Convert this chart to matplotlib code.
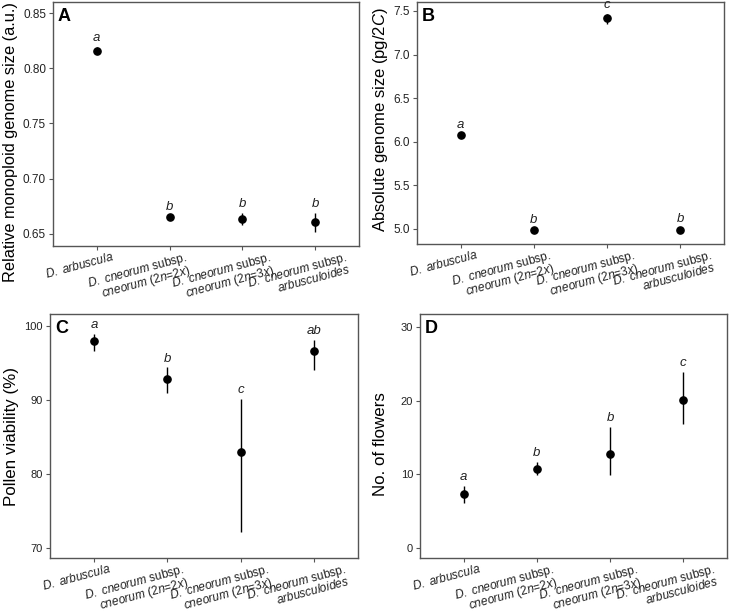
import matplotlib
matplotlib.use('Agg')
import matplotlib.pyplot as plt
import matplotlib.transforms as mtransforms
import numpy as np

plt.rcParams['font.family'] = ['Liberation Sans', 'DejaVu Sans']
plt.rcParams['mathtext.fontset'] = 'custom'
plt.rcParams['mathtext.rm'] = 'Liberation Sans'
plt.rcParams['mathtext.it'] = 'Liberation Sans:italic'

# taxa (x axis)
taxa = [
    r'$\mathit{D.\ arbuscula}$',
    r'$\mathit{D.\ cneorum}$ subsp.' + '\n' + r'$\mathit{cneorum}$ (2$\mathit{n}$=2$\mathit{x}$)',
    r'$\mathit{D.\ cneorum}$ subsp.' + '\n' + r'$\mathit{cneorum}$ (2$\mathit{n}$=3$\mathit{x}$)',
    r'$\mathit{D.\ cneorum}$ subsp.' + '\n' + r'$\mathit{arbusculoides}$',
]

# A: relative monoploid genome size
mono_mean = [0.8157, 0.6650, 0.6635, 0.6605]
mono_lo = [0.8125, 0.6635, 0.6580, 0.6520]
mono_hi = [0.8190, 0.6665, 0.6690, 0.6690]
mono_letters = ['a', 'b', 'b', 'b']

# B: absolute genome size
abs_mean = [6.076, 4.985, 7.416, 4.980]
abs_lo = [6.055, 4.975, 7.350, 4.950]
abs_hi = [6.095, 4.995, 7.465, 5.010]
abs_letters = ['a', 'b', 'c', 'b']

# C: pollen viability
pol_mean = [98.0, 92.8, 83.0, 96.6]
pol_lo = [96.6, 91.0, 72.2, 94.1]
pol_hi = [98.9, 94.4, 90.2, 98.1]
pol_letters = ['a', 'b', 'c', 'ab']

# D: number of flowers
flw_mean = [7.3, 10.8, 12.8, 20.1]
flw_lo = [6.1, 9.9, 9.9, 16.8]
flw_hi = [8.5, 11.7, 16.4, 23.9]
flw_letters = ['a', 'b', 'b', 'c']

W, H = 729, 614
fig = plt.figure(figsize=(W / 100, H / 100), dpi=100)
# how far (px) the right end of each rotated taxon label sits right of its tick
label_nudge = [15, 15, 26, 30]


def px_axes(l, t, r, b):
    return fig.add_axes([l / W, (H - b) / H, (r - l) / W, (b - t) / H])


def panel(ax, mean, lo, hi, letters, ylim, ticks, fmt, ylabel, tag, lab_xy,
          tick_fs=8.5, lab_fs=12):
    x = np.arange(1, len(mean) + 1)
    ax.vlines(x, lo, hi, color='black', lw=1.0)
    ax.plot(x, mean, 'o', color='black', ms=5.2)
    for xi, h, s in zip(x, hi, letters):
        ax.annotate(s, (xi, h), xytext=(0, 2), textcoords='offset points',
                    ha='center', va='bottom', style='italic', fontsize=9.5,
                    color='#222222')
    ax.set_xlim(0.4, 4.6)
    ax.set_ylim(*ylim)
    ax.set_yticks(ticks)
    ax.set_yticklabels([fmt % t for t in ticks], fontsize=tick_fs, color='#222222')
    ax.set_xticks(x)
    ax.set_xticklabels([])
    for sp in ax.spines.values():
        sp.set_color('#555555')
        sp.set_linewidth(1.0)
    ax.tick_params(direction='out', length=3, width=0.8, color='#555555', pad=2)
    ax.set_ylabel(ylabel, fontsize=lab_fs, va='center')
    ax.yaxis.set_label_coords(*lab_xy)
    ax.text(0.016, 0.975, tag, transform=ax.transAxes, fontsize=13,
            fontweight='bold', ha='left', va='top')
    # rotated taxon labels
    base = mtransforms.blended_transform_factory(ax.transData, ax.transAxes)
    for xi, lab, dx in zip(x, taxa, label_nudge):
        off = mtransforms.ScaledTranslation(dx / 100, -0.04, fig.dpi_scale_trans)
        ax.text(xi, 0, lab, transform=base + off, rotation=15,
                rotation_mode='anchor', ha='right', va='top', ma='right',
                fontsize=8.6, color='#222222', linespacing=0.78)


axA = px_axes(53, 2, 359, 246)
panel(axA, mono_mean, mono_lo, mono_hi, mono_letters, (0.639, 0.860),
      [0.65, 0.70, 0.75, 0.80, 0.85], '%.2f',
      'Relative monoploid genome size (a.u.)', 'A', ((11 - 53) / 306, 0.424),
      lab_fs=11.8)

axB = px_axes(417, 2, 724, 244)
panel(axB, abs_mean, abs_lo, abs_hi, abs_letters, (4.824, 7.603),
      [5.0, 5.5, 6.0, 6.5, 7.0, 7.5], '%.1f',
      'Absolute genome size (pg/2$\\mathit{C}$)', 'B', ((381 - 417) / 307, 0.514),
      lab_fs=12)

axC = px_axes(50, 314, 358, 558)
panel(axC, pol_mean, pol_lo, pol_hi, pol_letters, (68.7, 101.6),
      [70, 80, 90, 100], '%d',
      'Pollen viability (%)', 'C', ((11 - 50) / 308, 0.5), tick_fs=8, lab_fs=12.2)

axD = px_axes(420, 314, 727, 558)
panel(axD, flw_mean, flw_lo, flw_hi, flw_letters, (-1.3, 31.7),
      [0, 10, 20, 30], '%d',
      'No. of flowers', 'D', ((380 - 420) / 307, 0.469), tick_fs=8, lab_fs=12.2)

fig.savefig('out.png', dpi=100)
